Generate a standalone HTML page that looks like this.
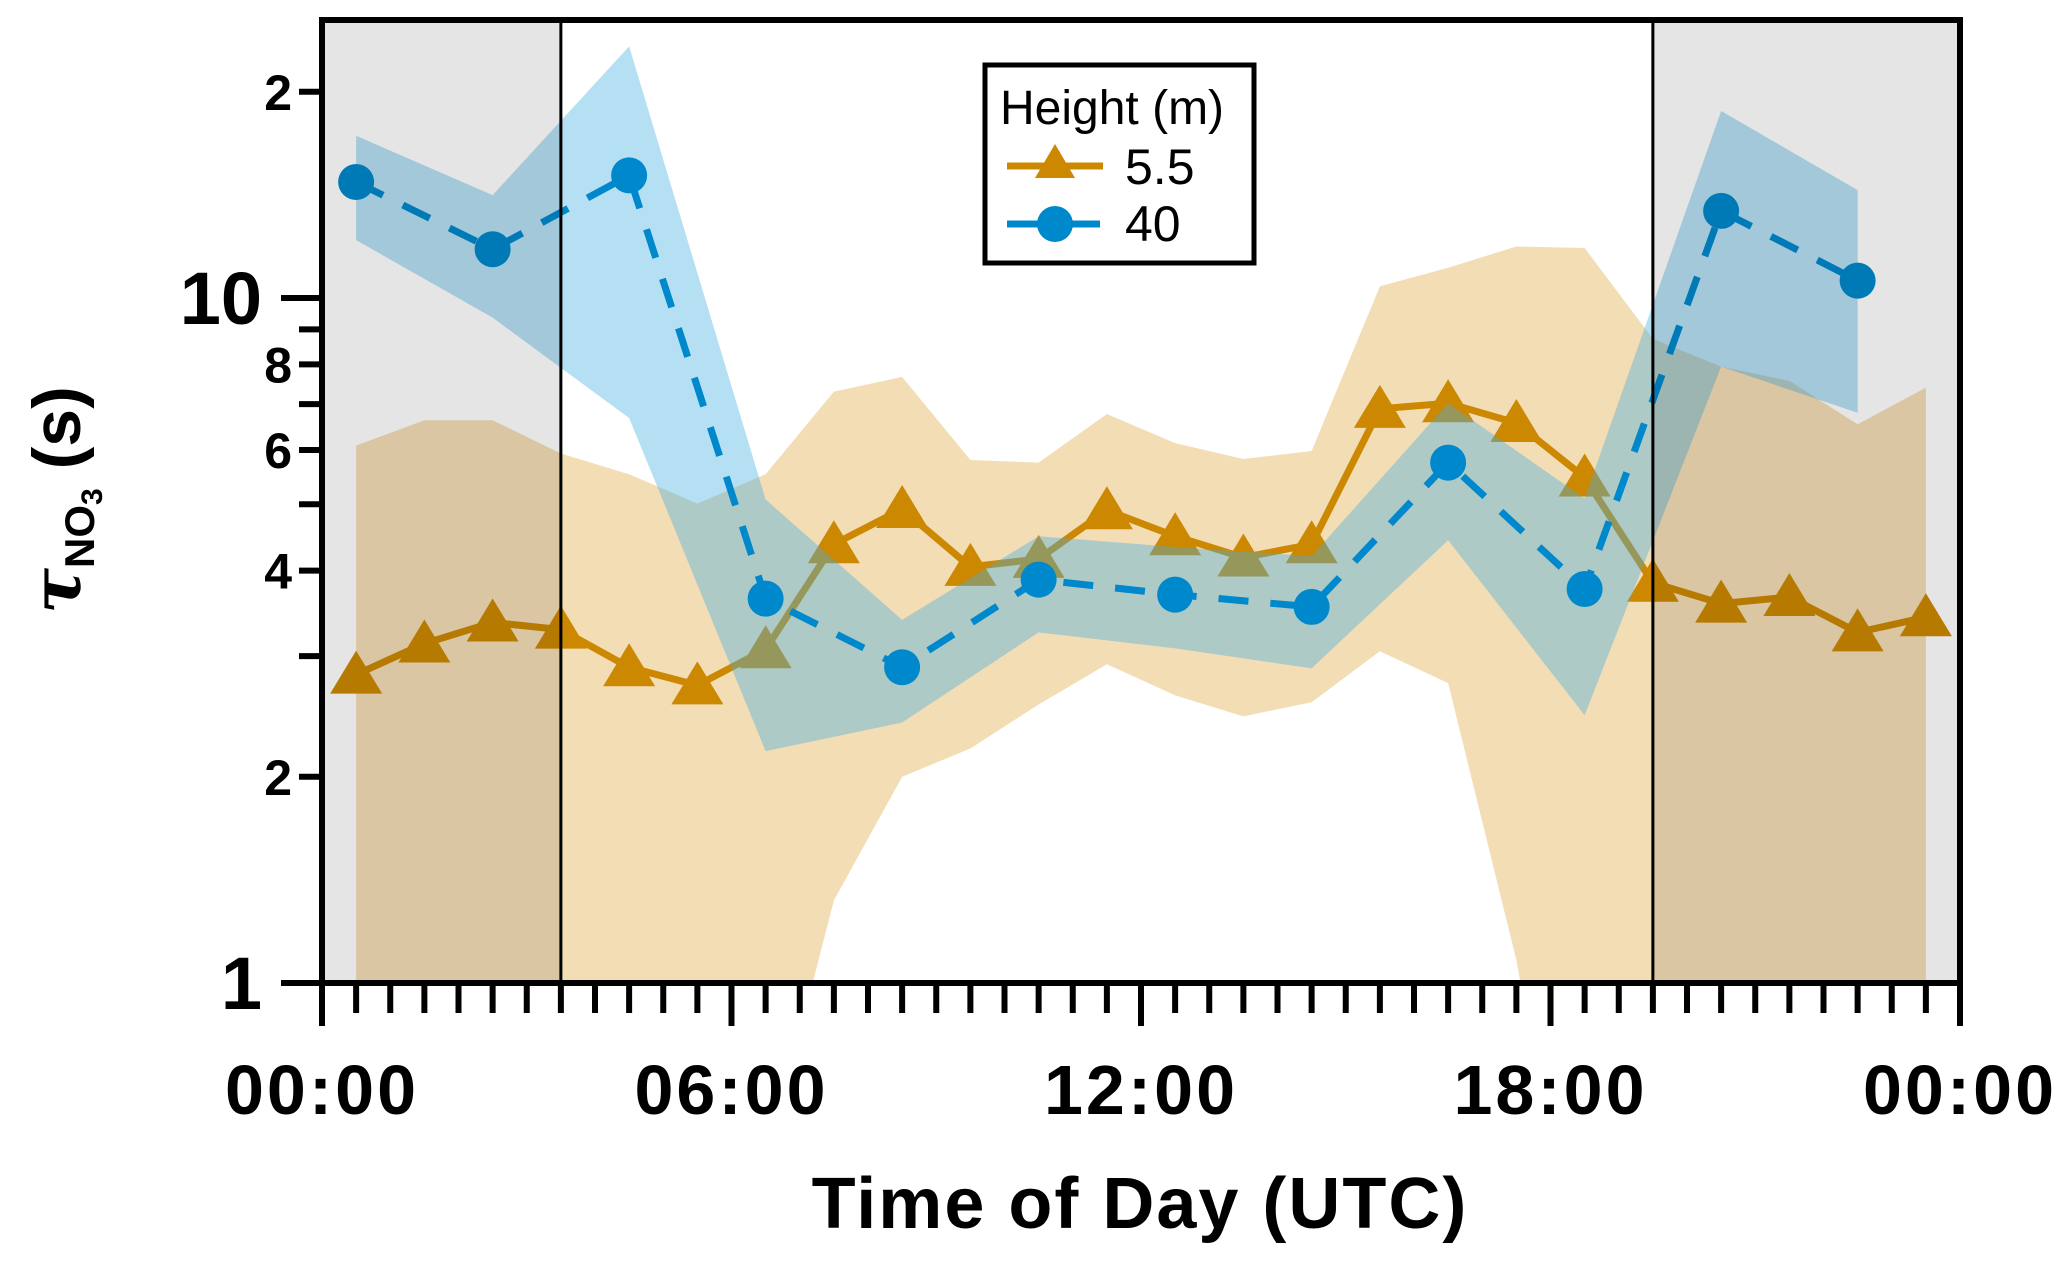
<!DOCTYPE html>
<html><head><meta charset="utf-8"><style>
html,body{margin:0;padding:0;background:#fff;width:2067px;height:1265px;overflow:hidden;}
svg{display:block;font-family:"Liberation Sans",Arial,sans-serif;overflow:hidden;}
</style></head><body>
<svg id="chart" width="2067" height="1265" viewBox="0 0 2067 1265" xmlns="http://www.w3.org/2000/svg">
<defs><clipPath id="plotclip"><rect x="322" y="20" width="1638" height="963"/></clipPath></defs>
<g id="bands" clip-path="url(#plotclip)"></g>
<g id="axes"></g>
<g>
<rect x="985" y="65" width="269" height="198" fill="#fff" stroke="#000" stroke-width="5"/>
<text x="1000" y="124" font-size="48">Height (m)</text>
<line x1="1007" y1="166" x2="1103" y2="166" stroke="#cc8800" stroke-width="7"/>
<polygon points="1055,144 1075,178 1035,178" fill="#cc8800"/>
<text x="1125" y="184" font-size="50">5.5</text>
<line x1="1007" y1="224" x2="1100" y2="224" stroke="#0088cc" stroke-width="7"/>
<circle cx="1055" cy="224" r="18" fill="#0088cc"/>
<text x="1125" y="241" font-size="50">40</text>
</g>
<text x="1140" y="1228" font-size="72" font-weight="bold" text-anchor="middle" letter-spacing="2">Time of Day (UTC)</text>
<g transform="translate(80,500) rotate(-90)">
<text x="0" y="0" font-size="68" font-weight="bold" text-anchor="middle"><tspan font-style="italic" font-family="'DejaVu Serif',serif">τ</tspan><tspan font-size="42" dy="14">NO</tspan><tspan font-size="30" dy="8">3</tspan><tspan dy="-22"> (s)</tspan></text>
</g>
</svg>
<script>
const hoursTan = [0.5,1.5,2.5,3.5,4.5,5.5,6.5,7.5,8.5,9.5,10.5,11.5,12.5,13.5,14.5,15.5,16.5,17.5,18.5,19.5,20.5,21.5,22.5,23.5];
const tanValues = [2.82,3.13,3.36,3.28,2.89,2.72,3.07,4.37,4.92,4.05,4.16,4.90,4.49,4.18,4.37,6.89,7.02,6.57,5.47,3.84,3.58,3.66,3.25,3.42];
const tanUpper = [6.09,6.63,6.63,5.93,5.53,5.01,5.53,7.30,7.67,5.80,5.75,6.77,6.14,5.82,5.98,10.4,11.07,11.89,11.83,8.72,7.94,7.57,6.54,7.40];
const tanLower = [0.5,0.5,0.5,0.5,0.5,0.5,0.54,1.32,2.00,2.20,2.55,2.92,2.63,2.45,2.57,3.05,2.74,1.08,0.3,0.3,0.3,0.3,0.3,0.3];
const hoursBlue = [0.5,2.5,4.5,6.5,8.5,10.5,12.5,14.5,16.5,18.5,20.5,22.5];
const blueValues = [14.77,11.78,15.1,3.64,2.89,3.88,3.69,3.54,5.75,3.76,13.4,10.6];
const blueUpper = [17.25,14.13,23.3,5.08,3.39,4.49,4.33,4.20,7.02,5.10,18.75,14.37];
const blueLower = [12.15,9.36,6.68,2.18,2.40,3.25,3.08,2.88,4.43,2.46,7.94,6.80];
const yTickValues = [1,2,3,4,5,6,7,8,9,10,20];
const yTickLabels = ["1","2","","4","","6","","8","","10","2"];
const xTickHours = [0,6,12,18,24];
const xTickLabels = ["00:00","06:00","12:00","18:00","00:00"];
const nightSpans = [[0,3.5],[19.5,24]];

const NS="http://www.w3.org/2000/svg";
const X0=322,X1=1960,Y0=983,YT=20,DEC=685;
function xs(h){return X0+(X1-X0)*h/24;}
function ys(v){return Y0-DEC*Math.log10(v);}
function mk(tag,attrs,parent){const e=document.createElementNS(NS,tag);for(const k in attrs)e.setAttribute(k,attrs[k]);parent.appendChild(e);return e;}
const bands=document.getElementById('bands');
const axes=document.getElementById('axes');

function bandPath(hs,up,lo){let d='';hs.forEach((h,i)=>{d+=(i?'L':'M')+xs(h)+','+ys(up[i]);});for(let i=hs.length-1;i>=0;i--)d+='L'+xs(hs[i])+','+ys(lo[i]);return d+'Z';}
function linePath(hs,vs){return hs.map((h,i)=>(i?'L':'M')+xs(h)+','+ys(vs[i])).join('');}

let el;
el=mk('path',{d:bandPath(hoursTan,tanUpper,tanLower),fill:'rgba(224,170,70,0.4)'},bands);


el=mk('path',{d:linePath(hoursTan,tanValues),fill:'none',stroke:'#cc8800','stroke-width':7,'stroke-linejoin':'round'},bands);


hoursTan.forEach((h,i)=>{const cx=xs(h),cy=ys(tanValues[i]);
 const t=mk('polygon',{points:`${cx},${cy-24} ${cx+26},${cy+19} ${cx-26},${cy+19}`,fill:'#cc8800'},bands);
 
 });
el=mk('path',{d:bandPath(hoursBlue,blueUpper,blueLower),fill:'rgba(70,175,225,0.4)'},bands);


el=mk('path',{d:linePath(hoursBlue,blueValues),fill:'none',stroke:'#0088cc','stroke-width':7,'stroke-dasharray':'30 22'},bands);


hoursBlue.forEach((h,i)=>{const c=mk('circle',{cx:xs(h),cy:ys(blueValues[i]),r:18,fill:'#0088cc'},bands);
 
 });
nightSpans.forEach(s=>{const r=mk('rect',{x:xs(s[0]),y:YT,width:xs(s[1])-xs(s[0]),height:Y0-YT,fill:'rgba(0,0,0,0.1)'},bands);
 
 });
[3.5,19.5].forEach(h=>{const l=mk('line',{x1:xs(h),x2:xs(h),y1:YT,y2:Y0,stroke:'#000','stroke-width':3},axes);
 
 });

el=mk('path',{d:`M${X0},${Y0}L${X0},${YT}L${X1},${YT}L${X1},${Y0}Z`,fill:'none',stroke:'#000','stroke-width':6},axes);


yTickValues.forEach((v,i)=>{const y=ys(v);const major=(v===1||v===10);
 const t=mk('line',{x1:major?281:299,x2:X0,y1:y,y2:y,stroke:'#000','stroke-width':6},axes);
 
 
 if(yTickLabels[i]){const tx=mk('text',{x:major?262:292,y:y+(major?26:18),'font-size':major?74:50,'font-weight':'bold','text-anchor':'end'},axes);
  tx.textContent=yTickLabels[i];
  
  }});
for(let k=0;k<=48;k++){const h=k/2;const major=(k%12===0);
 const t=mk('line',{x1:xs(h),x2:xs(h),y1:Y0,y2:major?1026:1013,stroke:'#000','stroke-width':6},axes);
 
 }
xTickHours.forEach((h,i)=>{const tx=mk('text',{x:xs(h),y:1114,'font-size':70,'font-weight':'bold','text-anchor':'middle','letter-spacing':'3'},axes);
 tx.textContent=xTickLabels[i];
 
 });
</script>
</body></html>
